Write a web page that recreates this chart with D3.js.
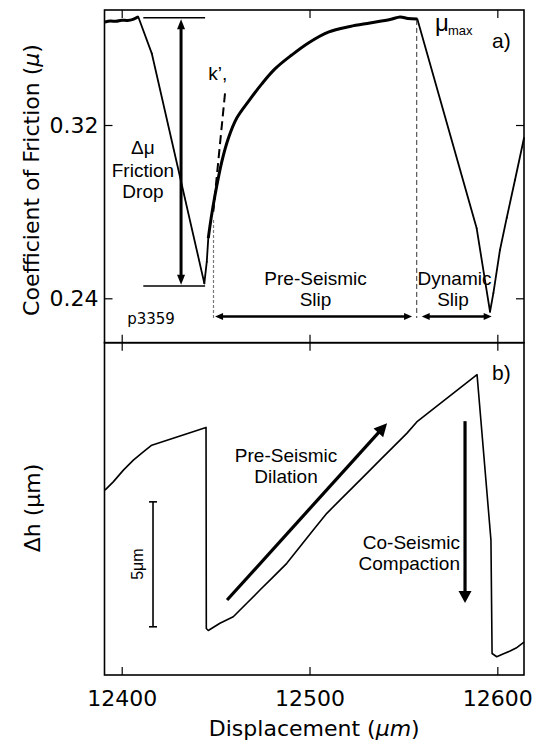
<!DOCTYPE html>
<html>
<head>
<meta charset="utf-8">
<script src="https://cdn.jsdelivr.net/npm/d3@7"></script>
<style>
  body { margin: 0; background: #fff; }
  svg { display: block; }
</style>
</head>
<body>
<div id="chart"></div>
<script>
// data (displacement in um, friction, dh in um)
const xDomain = [12390.84, 12614.2]
const xTicks = [12400, 12500, 12600]
const muDomain = [0.2195, 0.3731]
const muTicks = [0.24, 0.32]
const dhDomain = [0, 13.3]

const muX = [12391.1, 12394, 12397, 12400, 12403, 12406, 12408.8, 12416.0, 12444.0,
  12445.3, 12446.1, 12447.6, 12449.7, 12453.3, 12456.8, 12461.2, 12467.4, 12474.6,
  12481.6, 12490.5, 12499.4, 12510.0, 12521.6, 12532.2, 12542.9, 12548.2, 12552.4, 12557.4,
  12589.0, 12596.1, 12597.9, 12601.4, 12605.0, 12609.4, 12614.2]
const muVal = [0.3676, 0.3680, 0.3679, 0.3684, 0.3683, 0.3688, 0.3700, 0.3531, 0.2469,
  0.2569, 0.2678, 0.2769, 0.2877, 0.3031, 0.3139, 0.3231, 0.3308, 0.3390,
  0.3459, 0.3523, 0.3579, 0.3629, 0.3655, 0.3671, 0.3687, 0.3699, 0.3692, 0.3689,
  0.2723, 0.2338, 0.2424, 0.2623, 0.2771, 0.2946, 0.3140]
// ranges where the record is measured (drawn heavier), the rest is interpolated
const muMeasured = [[12391, 12408.8], [12446, 12557.4]]

const dhX = [12391.1, 12395.5, 12400.9, 12406.2, 12411.5, 12416.0, 12444.9, 12445.05,
  12446.1, 12452.3, 12459.4, 12466.6, 12473.6, 12480.7, 12487.9, 12494.9, 12502.0,
  12509.2, 12516.2, 12523.3, 12530.5, 12537.5, 12544.6, 12551.8, 12557.1, 12589.2,
  12596.6, 12597.2, 12599.7, 12603.0, 12606.8, 12610.0, 12614.2]
const dhVal = [7.40, 7.73, 8.20, 8.60, 8.93, 9.20, 9.91, 1.86,
  1.78, 2.07, 2.33, 2.87, 3.40, 3.93, 4.47, 5.13, 5.80,
  6.47, 7.00, 7.53, 8.07, 8.60, 9.13, 9.67, 10.13, 12.02,
  5.40, 0.86, 0.73, 0.84, 0.96, 1.08, 1.32]

const W = 537, H = 744
const left = 104.5, right = 524
const topY = 10, midY = 342.7, botY = 675
const tickFont = 'DejaVu Sans'
const annFont = 'Liberation Sans, Arial, sans-serif'

const svg = d3.select('#chart').append('svg')
  .attr('width', W).attr('height', H)

const x = d3.scaleLinear().domain(xDomain).range([left, right])
const yMu = d3.scaleLinear().domain(muDomain).range([midY, topY])
const yDh = d3.scaleLinear().domain(dhDomain).range([botY, midY])

// arrow helper in pixel space
function arrow (g, x1, y1, x2, y2, o) {
  const dx = x2 - x1, dy = y2 - y1
  const len = Math.hypot(dx, dy)
  const ux = dx / len, uy = dy / len
  const hl = o.headLen, hw = o.headW / 2
  const sx = o.both ? x1 + ux * hl * 0.8 : x1
  const sy = o.both ? y1 + uy * hl * 0.8 : y1
  g.append('line')
    .attr('x1', sx).attr('y1', sy)
    .attr('x2', x2 - ux * hl * 0.8).attr('y2', y2 - uy * hl * 0.8)
    .attr('stroke', '#000').attr('stroke-width', o.width)
  const head = (tx, ty, vx, vy) => {
    const bx = tx - vx * hl, by = ty - vy * hl
    g.append('polygon')
      .attr('points', [[tx, ty], [bx - vy * hw, by + vx * hw], [bx + vy * hw, by - vx * hw]].join(' '))
      .attr('fill', '#000')
  }
  head(x2, y2, ux, uy)
  if (o.both) head(x1, y1, -ux, -uy)
}

function text (g, px, py, str, o = {}) {
  return g.append('text')
    .attr('x', px).attr('y', py)
    .attr('font-family', o.font || annFont)
    .attr('font-size', o.size || 19)
    .attr('text-anchor', o.anchor || 'middle')
    .text(str)
}

// axes with inward ticks
function xAxes (yTop, yBot, labels) {
  const top = svg.append('g').attr('transform', `translate(0,${yTop})`)
    .call(d3.axisTop(x).tickValues(xTicks).tickSize(-8).tickFormat(''))
  const bot = svg.append('g').attr('transform', `translate(0,${yBot})`)
    .call(d3.axisBottom(x).tickValues(xTicks).tickSize(-8).tickPadding(15)
      .tickFormat(labels ? d3.format('d') : ''))
  ;[top, bot].forEach(a => {
    a.select('.domain').remove()
    a.selectAll('line').attr('stroke-width', 1.2)
    a.selectAll('text').attr('font-family', tickFont).attr('font-size', 22).attr('fill', '#000')
  })
}
xAxes(topY, midY, false)
xAxes(midY, botY, true)

const yl = svg.append('g').attr('transform', `translate(${left},0)`)
  .call(d3.axisLeft(yMu).tickValues(muTicks).tickSize(-8).tickPadding(6).tickFormat(d3.format('.2f')))
const yr = svg.append('g').attr('transform', `translate(${right},0)`)
  .call(d3.axisRight(yMu).tickValues(muTicks).tickSize(-8).tickFormat(''))
;[yl, yr].forEach(a => {
  a.select('.domain').remove()
  a.selectAll('line').attr('stroke-width', 1.2)
  a.selectAll('text').attr('font-family', tickFont).attr('font-size', 22).attr('fill', '#000')
})

// data lines
const muPts = muX.map((d, i) => [d, muVal[i]])
const dhPts = dhX.map((d, i) => [d, dhVal[i]])
const lineMu = d3.line().x(d => x(d[0])).y(d => yMu(d[1]))
const smoothMu = d3.line().x(d => x(d[0])).y(d => yMu(d[1])).curve(d3.curveCatmullRom.alpha(0.5))
const lineDh = d3.line().x(d => x(d[0])).y(d => yDh(d[1]))

const inRange = p => muMeasured.findIndex(r => p[0] >= r[0] && p[0] <= r[1])
// thin interpolated pieces
muPts.slice(1).forEach((p, i) => {
  const a = muPts[i]
  const ra = inRange(a)
  if (ra >= 0 && ra === inRange(p)) return
  svg.append('path').attr('d', lineMu([a, p]))
    .attr('fill', 'none').attr('stroke', '#000').attr('stroke-width', 1.8).attr('stroke-linecap', 'round')
})
// heavier measured pieces
muMeasured.forEach(r => {
  svg.append('path').attr('d', smoothMu(muPts.filter(p => p[0] >= r[0] && p[0] <= r[1])))
    .attr('fill', 'none').attr('stroke', '#000').attr('stroke-width', 3).attr('stroke-linejoin', 'round')
})
svg.append('path').attr('d', lineDh(dhPts))
  .attr('fill', 'none').attr('stroke', '#000').attr('stroke-width', 1.6).attr('stroke-linejoin', 'round')

// panel a annotations
const ga = svg.append('g')
;[0.3695, 0.2457].forEach(v => {
  ga.append('line').attr('x1', x(12411.5)).attr('x2', x(12444.4))
    .attr('y1', yMu(v)).attr('y2', yMu(v)).attr('stroke', '#000').attr('stroke-width', 1.6)
})
arrow(ga, x(12431.6), yMu(0.3688), x(12431.6), yMu(0.2462), {width: 3, headLen: 10, headW: 8, both: true})
text(ga, x(12411.3), yMu(0.3066), 'Δμ')
text(ga, x(12411.3), yMu(0.2961), 'Friction')
text(ga, x(12411.3), yMu(0.2862), 'Drop')
ga.append('line').attr('x1', x(12455.0)).attr('y1', yMu(0.3346))
  .attr('x2', x(12448.77)).attr('y2', yMu(0.2800))
  .attr('stroke', '#000').attr('stroke-width', 2).attr('stroke-dasharray', '9,5')
text(ga, x(12446.1), yMu(0.3408), 'k’,', {anchor: 'start'})
ga.append('line').attr('x1', x(12448.88)).attr('x2', x(12448.88))
  .attr('y1', yMu(0.2761)).attr('y2', yMu(0.2309))
  .attr('stroke', '#777').attr('stroke-width', 1.2).attr('stroke-dasharray', '3,2')
ga.append('line').attr('x1', x(12557.08)).attr('x2', x(12557.08))
  .attr('y1', yMu(0.3685)).attr('y2', yMu(0.2309))
  .attr('stroke', '#333').attr('stroke-width', 1).attr('stroke-dasharray', '5,3')
arrow(ga, x(12449.7), yMu(0.2316), x(12554.6), yMu(0.2316), {width: 2.5, headLen: 8, headW: 7, both: true})
arrow(ga, x(12559.74), yMu(0.2316), x(12597.0), yMu(0.2316), {width: 2.5, headLen: 8, headW: 7, both: true})
text(ga, x(12503.2), yMu(0.2461), 'Pre-Seismic')
text(ga, x(12503.2), yMu(0.2364), 'Slip')
text(ga, x(12577.2), yMu(0.2461), 'Dynamic')
text(ga, x(12576.4), yMu(0.2364), 'Slip')
text(ga, x(12566.8), yMu(0.3634), 'μ', {anchor: 'start', size: 24})
text(ga, x(12573.7), yMu(0.3616), 'max', {anchor: 'start', size: 13})
text(ga, x(12597.2), yMu(0.3554), 'a)', {anchor: 'start', size: 21})
text(ga, x(12415.6), yMu(0.2281), 'p3359', {font: tickFont, size: 15})

// panel b annotations
const gb = svg.append('g')
const sbx = x(12416.67)
gb.append('line').attr('x1', sbx).attr('x2', sbx).attr('y1', yDh(1.93)).attr('y2', yDh(6.93))
  .attr('stroke', '#000').attr('stroke-width', 1.6)
;[1.93, 6.93].forEach(v => {
  gb.append('line').attr('x1', sbx - 4).attr('x2', sbx + 4).attr('y1', yDh(v)).attr('y2', yDh(v))
    .attr('stroke', '#000').attr('stroke-width', 1.6)
})
text(gb, 0, 0, '5μm', {size: 16})
  .attr('x', null).attr('y', null)
  .attr('transform', `translate(${x(12411.3)},${yDh(4.44)}) rotate(-90)`)
arrow(gb, x(12456.1), yDh(3.0), x(12541.3), yDh(10.08), {width: 3.2, headLen: 13, headW: 13})
text(gb, x(12487.5), yDh(8.53), 'Pre-Seismic')
text(gb, x(12487.5), yDh(7.67), 'Dilation')
arrow(gb, x(12582.8), yDh(10.16), x(12582.8), yDh(2.88), {width: 3.2, headLen: 12, headW: 13})
text(gb, x(12580.1), yDh(5.04), 'Co-Seismic', {anchor: 'end'})
text(gb, x(12580.1), yDh(4.2), 'Compaction', {anchor: 'end'})
text(gb, x(12597.2), yDh(11.8), 'b)', {anchor: 'start', size: 21})

// frames
;[[topY, midY], [midY, botY]].forEach(([a, b]) => {
  svg.append('rect').attr('x', left).attr('y', a).attr('width', right - left).attr('height', b - a)
    .attr('fill', 'none').attr('stroke', '#000').attr('stroke-width', 1.6)
})

// axis labels
const ylab = svg.append('text')
  .attr('transform', 'translate(39,180) rotate(-90)')
  .attr('text-anchor', 'middle').attr('font-family', tickFont).attr('font-size', 22)
ylab.append('tspan').text('Coefficient of Friction (')
ylab.append('tspan').attr('font-style', 'italic').text('μ')
ylab.append('tspan').text(')')

svg.append('text')
  .attr('transform', 'translate(40,508) rotate(-90)')
  .attr('text-anchor', 'middle').attr('font-family', tickFont).attr('font-size', 22)
  .text('Δh (μm)')

const xlab = svg.append('text')
  .attr('x', (left + right) / 2).attr('y', 736)
  .attr('text-anchor', 'middle').attr('font-family', tickFont).attr('font-size', 22)
xlab.append('tspan').text('Displacement (')
xlab.append('tspan').attr('font-style', 'italic').text('μm')
xlab.append('tspan').text(')')
</script>
</body>
</html>
